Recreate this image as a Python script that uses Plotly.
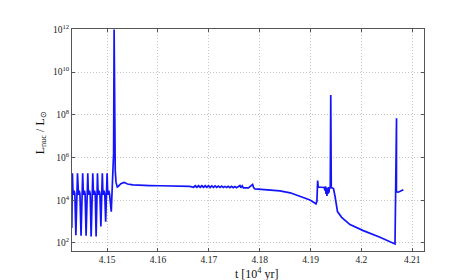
import plotly.graph_objects as go

# time in units of 10^4 yr
t = [
    4.14306,
    4.14318, 4.14328, 4.14338, 4.14352, 4.14366, 4.14386,
    4.14418, 4.14428, 4.14438, 4.14452, 4.14466, 4.14488,
    4.14520, 4.14530, 4.14540, 4.14554, 4.14568, 4.14587,
    4.14620, 4.14630, 4.14640, 4.14654, 4.14668, 4.14686,
    4.14719, 4.14729, 4.14739, 4.14753, 4.14767, 4.14784,
    4.14811, 4.14821, 4.14831, 4.14845, 4.14859, 4.14878,
    4.14906, 4.14916, 4.14926, 4.14940, 4.14954, 4.14972,
    4.15000, 4.15010, 4.15020, 4.15034, 4.15048, 4.15082,
    4.15110, 4.15128, 4.15138, 4.15146, 4.15152, 4.15160, 4.15175,
    4.15200, 4.15216, 4.15270, 4.15334, 4.15400, 4.15506,
    4.15640, 4.15840, 4.16040, 4.16230, 4.16430, 4.16627,
    4.16700, 4.16733, 4.16765, 4.16798, 4.16830, 4.16863, 4.16895,
    4.16928, 4.16960, 4.16993, 4.17025, 4.17058, 4.17090, 4.17123,
    4.17155, 4.17188, 4.17220, 4.17253, 4.17285, 4.17318, 4.17350,
    4.17383, 4.17415, 4.17448, 4.17480, 4.17513, 4.17545, 4.17578,
    4.17611, 4.17630, 4.17656, 4.17680, 4.17780, 4.17861, 4.17880,
    4.17906, 4.18103, 4.18398, 4.18600, 4.18726, 4.18889, 4.18988,
    4.19090, 4.19106, 4.19125, 4.19139, 4.19151, 4.19200, 4.19269,
    4.19283, 4.19293, 4.19303, 4.19312, 4.19322, 4.19332, 4.19342,
    4.19352, 4.19362, 4.19371, 4.19387,
    4.19397, 4.19407, 4.19450, 4.19480, 4.19509, 4.19529, 4.19611,
    4.19775, 4.20036, 4.20365, 4.20660, 4.20690, 4.20688, 4.20725,
    4.20812, 4.20823,
]

# log10 of L_nuc / L_sun
log_lum = [
    2.70,
    5.26, 4.50, 4.25, 4.45, 4.30, 2.36,
    5.26, 4.50, 4.25, 4.45, 4.30, 2.34,
    5.26, 4.50, 4.25, 4.45, 4.30, 2.34,
    5.26, 4.50, 4.25, 4.45, 4.30, 2.30,
    5.26, 4.50, 4.25, 4.45, 4.30, 2.30,
    5.26, 4.50, 4.25, 4.45, 4.30, 2.77,
    5.26, 4.50, 4.25, 4.45, 4.30, 3.00,
    5.26, 4.50, 4.25, 4.45, 4.30, 3.47,
    5.10, 6.20, 12.0, 7.20, 6.90, 5.40, 4.85,
    4.62, 4.64, 4.78, 4.84, 4.76, 4.72,
    4.70, 4.69, 4.68, 4.67, 4.66, 4.65,
    4.61, 4.68, 4.61, 4.68, 4.61, 4.68, 4.61,
    4.68, 4.61, 4.68, 4.60, 4.67, 4.60, 4.67,
    4.60, 4.66, 4.60, 4.66, 4.60, 4.65, 4.60,
    4.65, 4.59, 4.65, 4.59, 4.64, 4.59, 4.64,
    4.69, 4.59, 4.68, 4.58, 4.58, 4.74, 4.60,
    4.53, 4.50, 4.44, 4.35, 4.25, 4.12, 4.01,
    3.86, 3.83, 3.95, 4.92, 4.62, 4.60, 4.60,
    4.45, 4.65, 4.30, 4.60, 4.20, 4.55, 4.30,
    4.62, 4.35, 4.60, 4.55,
    8.93, 4.60, 4.55, 4.20, 3.70, 3.47, 3.20,
    2.86, 2.58, 2.27, 1.95, 7.84, 4.40, 4.38,
    4.48, 4.50,
]

x_ticks = [4.15, 4.16, 4.17, 4.18, 4.19, 4.20, 4.21]
x_labels = ['4.15', '4.16', '4.17', '4.18', '4.19', '4.2', '4.21']
y_exps = [2, 4, 6, 8, 10, 12]

serif = 'Liberation Serif, Times New Roman, serif'


def main():
    lum = [10 ** v for v in log_lum]

    fig = go.Figure()
    fig.add_trace(go.Scatter(
        x=t, y=lum, mode='lines',
        line=dict(color='rgb(20,20,250)', width=1.7),
        showlegend=False
    ))

    axis_common = dict(
        showline=True, linecolor='#555555', linewidth=1, mirror='ticks',
        ticks='inside', ticklen=3, tickcolor='#555555',
        showgrid=True, gridcolor='#c4c4c4', griddash='1px,2px', gridwidth=1,
        zeroline=False,
        tickfont=dict(family=serif, size=9.5, color='#222222'),
    )

    fig.update_xaxes(
        range=[4.1431, 4.2123],
        tickvals=x_ticks, ticktext=x_labels,
        **axis_common
    )
    fig.update_yaxes(
        type='log', range=[1.625, 12.02],
        tickvals=[10 ** e for e in y_exps],
        ticktext=['10<sup>%d</sup>' % e for e in y_exps],
        **axis_common
    )

    fig.add_annotation(
        text='t [10<sup>4</sup> yr]', xref='paper', yref='paper',
        x=0.526, y=-0.10, xanchor='center', yanchor='middle',
        showarrow=False, font=dict(family=serif, size=12, color='#111111')
    )
    fig.add_annotation(
        text='L<sub>nuc</sub> / L<sub>⊙</sub>', xref='paper', yref='paper',
        x=-0.088, y=0.53, xanchor='center', yanchor='middle', textangle=-90,
        showarrow=False, font=dict(family=serif, size=12, color='#111111')
    )

    # page body keeps its default 8px margin, so size and margins are trimmed to suit
    fig.update_layout(
        width=449, height=272,
        margin=dict(l=64, r=33, t=21, b=29),
        paper_bgcolor='white', plot_bgcolor='white',
    )

    fig.write_html('out.html')


if __name__ == '__main__':
    main()
